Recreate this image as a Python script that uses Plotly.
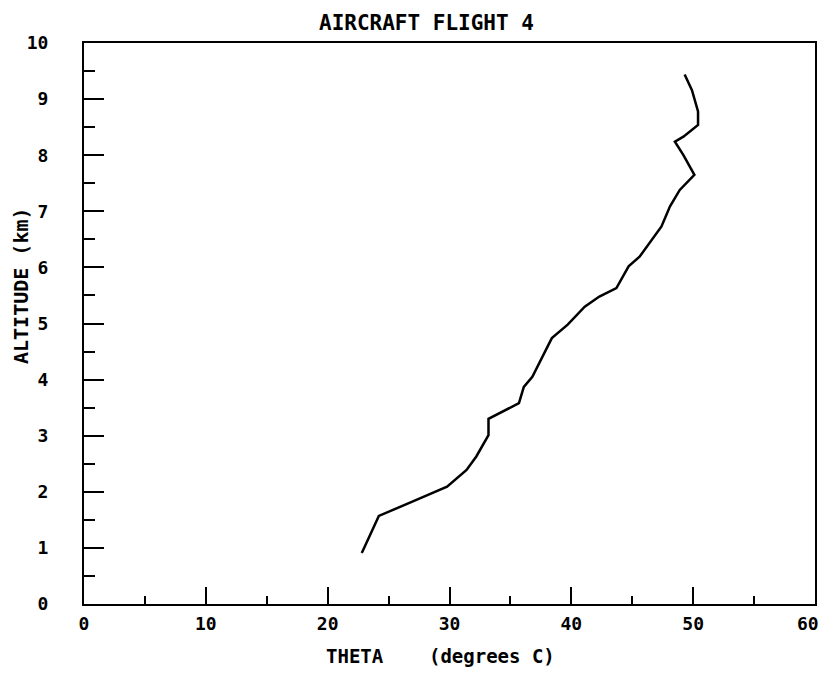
import plotly.graph_objects as go

theta = [22.8, 24.2, 26.9, 29.8, 31.4, 32.2, 33.2, 33.2, 35.7, 36.1, 36.8, 37.4,
         38.4, 39.7, 41.1, 42.3, 43.7, 44.7, 45.6, 47.4, 48.1, 48.9, 50.1, 49.2,
         48.5, 49.2, 50.4, 50.4, 49.9, 49.3]
altitude = [0.91, 1.57, 1.82, 2.09, 2.39, 2.63, 3.01, 3.30, 3.58, 3.87, 4.05, 4.30,
            4.74, 4.98, 5.30, 5.48, 5.63, 6.02, 6.19, 6.73, 7.09, 7.38, 7.65, 8.00,
            8.24, 8.33, 8.54, 8.78, 9.16, 9.44]

x_ticks = [0, 10, 20, 30, 40, 50, 60]
y_ticks = [0, 1, 2, 3, 4, 5, 6, 7, 8, 9, 10]

FONT = "DejaVu Sans Mono"
TICKFONT = dict(family=FONT, size=18, color="black", weight="bold")

# the last x tick label sits against the page edge, so it is placed as an annotation
x_ticktext = [str(v) for v in x_ticks[:-1]] + [""]

fig = go.Figure()
fig.add_trace(go.Scatter(x=theta, y=altitude, mode="lines",
                         line=dict(color="black", width=2.5), showlegend=False))

axis_common = dict(showgrid=False, zeroline=False, showline=True, linecolor="black",
                   linewidth=2, mirror=True, ticks="inside", tickcolor="black",
                   tickwidth=2, ticklabeloverflow="allow", automargin=False,
                   tickfont=TICKFONT)

fig.update_xaxes(range=[0, 60], tickvals=x_ticks, ticktext=x_ticktext,
                 ticklen=17, ticklabelstandoff=2,
                 minor=dict(ticks="inside", ticklen=8, dtick=5, tickcolor="black", tickwidth=2),
                 **axis_common)
fig.update_yaxes(range=[0, 10], tickvals=y_ticks, ticktext=[str(v) for v in y_ticks],
                 ticklen=20, ticklabelstandoff=30,
                 minor=dict(ticks="inside", ticklen=11, dtick=0.5, tickcolor="black", tickwidth=2),
                 **axis_common)

fig.update_layout(
    width=823, height=673,
    margin=dict(l=84, r=8, t=43, b=69),
    paper_bgcolor="white", plot_bgcolor="white",
    annotations=[
        dict(text=str(x_ticks[-1]), xref="x", yref="paper",
             x=x_ticks[-1], y=0, xshift=6, yshift=-7, showarrow=False,
             xanchor="right", yanchor="top", font=TICKFONT),
        dict(text="AIRCRAFT FLIGHT 4", xref="paper", yref="paper",
             x=(426 - 84) / 731, y=1, yshift=20, showarrow=False,
             xanchor="center", yanchor="middle",
             font=dict(family=FONT, size=21, color="black", weight="bold")),
        dict(text="THETA&nbsp;&nbsp;&nbsp;&nbsp;(degrees C)", xref="paper", yref="paper",
             x=(440 - 84) / 731, y=0, yshift=-52, showarrow=False,
             xanchor="center", yanchor="middle",
             font=dict(family=FONT, size=19, color="black", weight="bold")),
        dict(text="ALTITUDE (km)", xref="paper", yref="paper",
             x=0, xshift=-63, y=(604 - 286) / 561, showarrow=False, textangle=-90,
             xanchor="center", yanchor="middle",
             font=dict(family=FONT, size=20, color="black", weight="bold")),
    ],
)

fig.write_html("out.html")
